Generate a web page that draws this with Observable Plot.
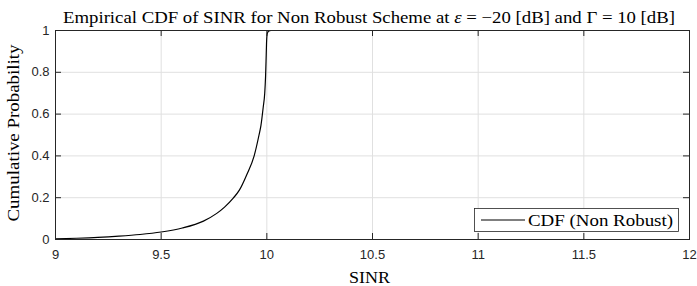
<!DOCTYPE html>
<html><head><meta charset="utf-8">
<script src="https://cdn.jsdelivr.net/npm/d3@7"></script>
<script src="https://cdn.jsdelivr.net/npm/@observablehq/plot@0.6"></script>
<style>body{margin:0;background:#fff} #chart svg{display:block}</style>
</head><body><div id="chart"></div>
<script>
// ---- data ----
const sinr = [9.0, 9.1, 9.2, 9.3, 9.4, 9.5, 9.6, 9.7, 9.763, 9.8, 9.841, 9.87, 9.905, 9.94, 9.963, 9.972, 9.983, 9.99, 9.994, 9.997, 9.999, 10.002, 10.008, 10.02, 10.17];
const cdf  = [0.003, 0.006, 0.010, 0.016, 0.024, 0.036, 0.055, 0.088, 0.125, 0.155, 0.198, 0.236, 0.31, 0.40, 0.50, 0.545, 0.634, 0.70, 0.78, 0.88, 0.95, 0.985, 0.997, 1.0, 1.0];
const xTicks = [9, 9.5, 10, 10.5, 11, 11.5, 12];
const xTickLabels = ["9", "9.5", "10", "10.5", "11", "11.5", "12"];
const yTicks = [0, 0.2, 0.4, 0.6, 0.8, 1];
const yTickLabels = ["0", "0.2", "0.4", "0.6", "0.8", "1"];
const seriesName = "CDF (Non Robust)";
const xLabel = "SINR";
const yLabel = "Cumulative Probability";
const titleParts = [["Empirical CDF of SINR for Non Robust Scheme at ", false], ["ε", true], [" = −20 [dB] and Γ = 10 [dB]", false]];

const data = sinr.map((x, i) => ({x, y: cdf[i]}));

const W = 697, H = 286, mL = 55, mR = 8, mT = 30, mB = 47;
const innerH = H - mT - mB, innerW = W - mL - mR, tk = 6;
const axisColor = "#262626", gridColor = "#e0e0e0";
const serif = "'Liberation Serif', 'Times New Roman', serif";

const chart = Plot.plot({
  width: W, height: H,
  marginLeft: mL, marginRight: mR, marginTop: mT, marginBottom: mB,
  style: {fontFamily: "'Liberation Sans', Arial, sans-serif", fontSize: "13px", color: axisColor, background: "#fff", overflow: "visible"},
  x: {domain: [9, 12]},
  y: {domain: [0, 1]},
  marks: [
    Plot.gridX(xTicks.slice(1, -1), {stroke: gridColor, strokeOpacity: 1}),
    Plot.gridY(yTicks.slice(1, -1), {stroke: gridColor, strokeOpacity: 1}),
    Plot.line(data, {x: "x", y: "y", stroke: "#000", strokeWidth: 1.2, curve: "monotone-x"}),
    Plot.tickX(xTicks, {x: d => d, insetTop: innerH - tk, stroke: axisColor}),
    Plot.tickX(xTicks, {x: d => d, insetBottom: innerH - tk, stroke: axisColor}),
    Plot.tickY(yTicks, {y: d => d, insetRight: innerW - tk, stroke: axisColor}),
    Plot.tickY(yTicks, {y: d => d, insetLeft: innerW - tk, stroke: axisColor}),
    Plot.frame({stroke: axisColor}),
    Plot.axisX(xTicks, {tickSize: 0, tickPadding: 10, tickFormat: d => xTickLabels[xTicks.indexOf(d)], label: null}),
    Plot.axisY(yTicks, {tickSize: 0, tickPadding: 6, tickFormat: d => yTickLabels[yTicks.indexOf(d)], label: null})
  ]
});
document.getElementById("chart").append(chart);

const svg = d3.select(chart);
// title
const t = svg.append("text").attr("x", 369).attr("y", 23).attr("text-anchor", "middle")
  .attr("font-family", serif).attr("font-size", 16).attr("fill", "#000")
  .attr("textLength", 612).attr("lengthAdjust", "spacingAndGlyphs");
titleParts.forEach(([s, it]) => t.append("tspan").attr("font-style", it ? "italic" : null).text(s));
// x label
svg.append("text").attr("x", 369.5).attr("y", 283).attr("text-anchor", "middle")
  .attr("font-family", serif).attr("font-size", 16).attr("fill", "#000")
  .attr("textLength", 41).attr("lengthAdjust", "spacingAndGlyphs").text(xLabel);
// y label
svg.append("text").attr("transform", "translate(19,133) rotate(-90)").attr("text-anchor", "middle")
  .attr("font-family", serif).attr("font-size", 16).attr("fill", "#000")
  .attr("textLength", 177).attr("lengthAdjust", "spacingAndGlyphs").text(yLabel);
// legend
const lg = svg.append("g");
lg.append("rect").attr("x", 474.5).attr("y", 208.5).attr("width", 204).attr("height", 23)
  .attr("fill", "#fff").attr("stroke", axisColor).attr("stroke-width", 0.8);
lg.append("line").attr("x1", 481).attr("x2", 525).attr("y1", 220).attr("y2", 220).attr("stroke", "#000").attr("stroke-width", 1.2);
lg.append("text").attr("x", 528).attr("y", 225.5).attr("text-anchor", "start")
  .attr("font-family", serif).attr("font-size", 16).attr("fill", "#000")
  .attr("textLength", 145).attr("lengthAdjust", "spacingAndGlyphs").text(seriesName);
</script>
</body></html>
